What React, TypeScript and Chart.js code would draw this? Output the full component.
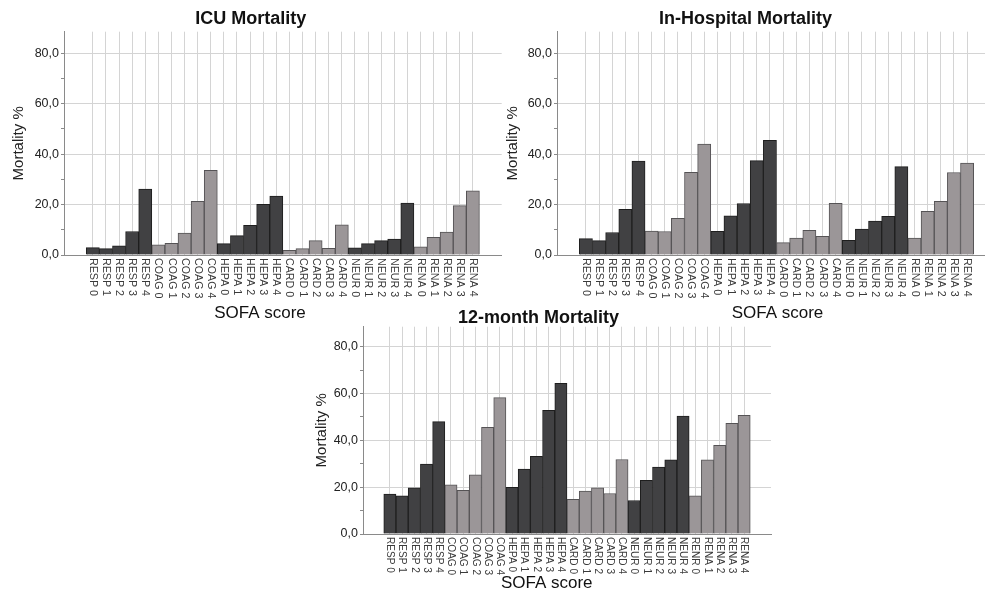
import React, { useEffect, useRef } from "react";
import { Chart, registerables } from "chart.js";

Chart.register(...registerables);

// ---------------- data ----------------
const categories = [
  "RESP 0", "RESP 1", "RESP 2", "RESP 3", "RESP 4",
  "COAG 0", "COAG 1", "COAG 2", "COAG 3", "COAG 4",
  "HEPA 0", "HEPA 1", "HEPA 2", "HEPA 3", "HEPA 4",
  "CARD 0", "CARD 1", "CARD 2", "CARD 3", "CARD 4",
  "NEUR 0", "NEUR 1", "NEUR 2", "NEUR 3", "NEUR 4",
  "RENA 0", "RENA 1", "RENA 2", "RENA 3", "RENA 4",
];

// the 12-month panel prints "RENR 0" in the original
const categories12 = [
  "RESP 0", "RESP 1", "RESP 2", "RESP 3", "RESP 4",
  "COAG 0", "COAG 1", "COAG 2", "COAG 3", "COAG 4",
  "HEPA 0", "HEPA 1", "HEPA 2", "HEPA 3", "HEPA 4",
  "CARD 0", "CARD 1", "CARD 2", "CARD 3", "CARD 4",
  "NEUR 0", "NEUR 1", "NEUR 2", "NEUR 3", "NEUR 4",
  "RENR 0", "RENA 1", "RENA 2", "RENA 3", "RENA 4",
];

const icuMortality = [
  2.9, 2.5, 3.6, 9.3, 26.1,
  4.0, 4.6, 8.7, 21.3, 33.6,
  4.5, 7.7, 11.8, 20.1, 23.4,
  1.9, 2.5, 5.7, 2.6, 12.0,
  2.8, 4.5, 5.7, 6.3, 20.6,
  3.2, 7.0, 9.1, 19.6, 25.4,
];

const hospitalMortality = [
  6.5, 5.7, 8.9, 18.1, 37.2,
  9.5, 9.3, 14.5, 32.8, 44.0,
  9.4, 15.5, 20.4, 37.4, 45.4,
  4.9, 6.7, 9.8, 7.4, 20.5,
  5.8, 10.3, 13.4, 15.3, 35.0,
  6.7, 17.3, 21.3, 32.7, 36.4,
];

const month12Mortality = [
  17.0, 16.3, 19.7, 29.8, 48.0,
  21.0, 18.6, 25.3, 45.5, 58.2,
  19.9, 27.7, 33.2, 52.8, 64.3,
  14.8, 18.3, 19.7, 17.3, 31.8,
  14.3, 22.9, 28.6, 31.7, 50.3,
  16.3, 31.7, 37.9, 47.2, 50.7,
];

const yTicks = [0, 10, 20, 30, 40, 50, 60, 70, 80];
const yMax = 88.5;
const xMin = -2.2;
const xMax = 31.2;

const yTitle = "Mortality %";
const xTitle = "SOFA score";

// ---------------- styling ----------------
const FONT = "'Liberation Sans', Arial, Helvetica, sans-serif";
const DARK = "#414143";
const DARK_BORDER = "#1e1e1e";
const LIGHT = "#9b9698";
const LIGHT_BORDER = "#555355";
const GRID = "#d4d4d4";
const AXIS = "#8a8a8a";

type PanelProps = {
  title: string;
  labels: string[];
  values: number[];
  left: number;
  top: number;
  width: number;
  height: number;
  yAxisWidth: number;
  xAxisHeight: number;
  padRight: number;
  titlePadTop: number;
  titlePadBottom: number;
  yTitlePad: number;
  xTitleX: number;
  xTitleY: number;
  labelFont: number;
};

function Panel(p: PanelProps) {
  const ref = useRef<HTMLCanvasElement | null>(null);

  useEffect(() => {
    if (!ref.current) return;
    const isDark = (i: number) => Math.floor(i / 5) % 2 === 0;

    const xLabels = {
      id: "xLabelsClockwise",
      afterDraw(chart: any) {
        const { ctx, chartArea } = chart;
        const xs = chart.scales.x;
        ctx.save();
        ctx.fillStyle = "#3a3a3a";
        ctx.font = `${p.labelFont}px ${FONT}`;
        ctx.textAlign = "left";
        ctx.textBaseline = "middle";
        p.labels.forEach((lab, i) => {
          const x = xs.getPixelForValue(i);
          ctx.save();
          ctx.translate(x, chartArea.bottom + 3);
          ctx.rotate(Math.PI / 2);
          ctx.fillText(lab, 0, 0);
          ctx.restore();
        });
        ctx.fillStyle = "#111";
        ctx.font = `17px ${FONT}`;
        ctx.textAlign = "center";
        ctx.fillText(xTitle, p.xTitleX, p.xTitleY);
        ctx.restore();
      },
    };

    const chart = new Chart(ref.current, {
      type: "bar",
      data: {
        datasets: [
          {
            data: p.values.map((v, i) => ({ x: i, y: v })),
            backgroundColor: p.values.map((_, i) => (isDark(i) ? DARK : LIGHT)),
            borderColor: p.values.map((_, i) => (isDark(i) ? DARK_BORDER : LIGHT_BORDER)),
            borderWidth: 1,
            barPercentage: 1,
            categoryPercentage: 1,
          },
        ],
      },
      options: {
        responsive: false,
        animation: false,
        devicePixelRatio: 1,
        layout: { padding: { left: 0, right: p.padRight, top: 0, bottom: 0 } },
        plugins: {
          legend: { display: false },
          tooltip: { enabled: false },
          title: {
            display: true,
            text: p.title,
            color: "#111",
            font: { family: FONT, size: 18, weight: "bold", lineHeight: 1 },
            padding: { top: p.titlePadTop, bottom: p.titlePadBottom },
          },
        },
        scales: {
          x: {
            type: "linear",
            offset: false,
            min: xMin,
            max: xMax,
            afterBuildTicks: (s: any) => {
              s.ticks = p.labels.map((_, i) => ({ value: i }));
            },
            afterFit: (s: any) => {
              s.height = p.xAxisHeight;
            },
            ticks: { display: false },
            grid: { color: GRID, drawTicks: false, lineWidth: 1, offset: false },
            border: { color: AXIS, width: 1 },
          },
          y: {
            type: "linear",
            min: 0,
            max: yMax,
            afterBuildTicks: (s: any) => {
              s.ticks = yTicks.map((v) => ({ value: v }));
            },
            afterFit: (s: any) => {
              s.width = p.yAxisWidth;
            },
            ticks: {
              autoSkip: false,
              padding: 2,
              color: "#222",
              font: { family: FONT, size: 12.5 },
              callback: (v: any) =>
                Number(v) % 20 === 0 ? Number(v).toFixed(1).replace(".", ",") : "",
            },
            grid: {
              color: (c: any) =>
                c.tick && c.tick.value % 20 === 0 && c.tick.value > 0 ? GRID : "rgba(0,0,0,0)",
              tickColor: AXIS,
              tickLength: 3,
              lineWidth: 1,
            },
            border: { color: AXIS, width: 1 },
            title: {
              display: true,
              text: yTitle,
              color: "#222",
              font: { family: FONT, size: 15, lineHeight: 1.2 },
              padding: { top: p.yTitlePad, bottom: 0 },
            },
          },
        },
      },
      plugins: [xLabels],
    } as any);

    return () => chart.destroy();
  }, []);

  return (
    <canvas
      ref={ref}
      width={p.width}
      height={p.height}
      style={{
        position: "absolute",
        left: p.left,
        top: p.top,
        width: p.width,
        height: p.height,
      }}
    />
  );
}

export default function App() {
  return (
    <div
      style={{
        position: "fixed",
        left: 0,
        top: 0,
        width: 985,
        height: 595,
        overflow: "hidden",
        background: "#ffffff",
      }}
    >
      <Panel
        title="ICU Mortality"
        labels={categories}
        values={icuMortality}
        left={0}
        top={0}
        width={505}
        height={330}
        yAxisWidth={64}
        xAxisHeight={75}
        padRight={3.3}
        titlePadTop={10.5}
        titlePadBottom={3.2}
        yTitlePad={9.5}
        xTitleX={260}
        xTitleY={313.5}
        labelFont={10.7}
      />
      <Panel
        title="In-Hospital Mortality"
        labels={categories}
        values={hospitalMortality}
        left={495}
        top={0}
        width={504}
        height={330}
        yAxisWidth={62}
        xAxisHeight={75}
        padRight={3}
        titlePadTop={10.5}
        titlePadBottom={3.2}
        yTitlePad={9}
        xTitleX={282.5}
        xTitleY={313.5}
        labelFont={10.7}
      />
      <Panel
        title="12-month Mortality"
        labels={categories12}
        values={month12Mortality}
        left={306}
        top={300}
        width={468}
        height={295}
        yAxisWidth={57}
        xAxisHeight={61}
        padRight={3}
        titlePadTop={8.7}
        titlePadBottom={0}
        yTitlePad={7}
        xTitleX={240.7}
        xTitleY={283.5}
        labelFont={10.1}
      />
    </div>
  );
}
